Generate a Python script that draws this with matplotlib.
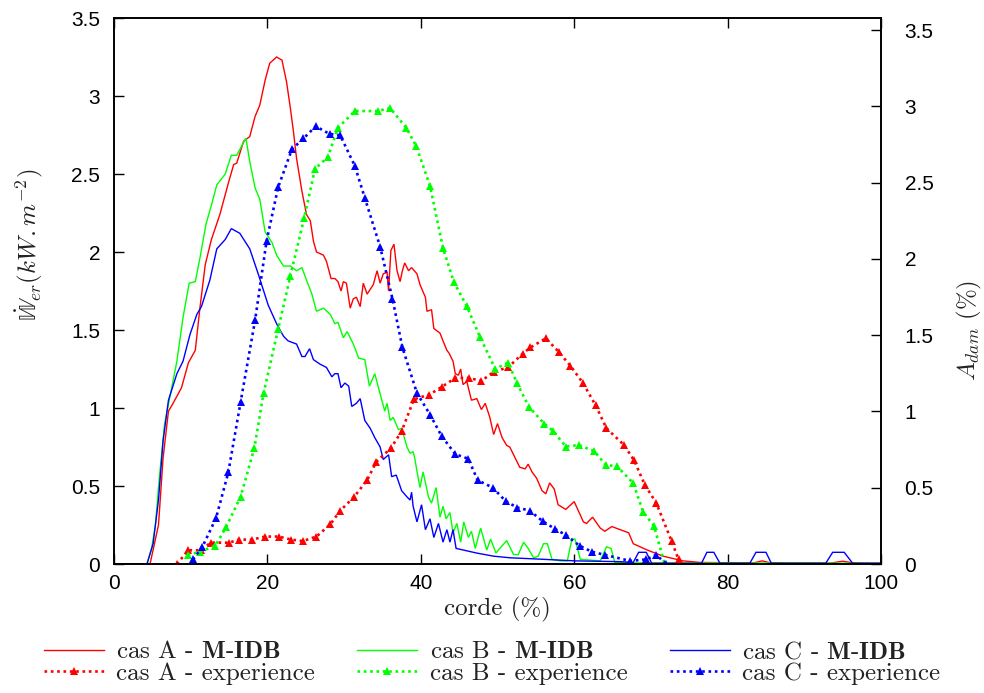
import matplotlib
matplotlib.use('Agg')
import matplotlib.pyplot as plt
from matplotlib.ticker import MultipleLocator, FormatStrFormatter

plt.rcParams['mathtext.fontset'] = 'cm'
plt.rcParams['font.family'] = ['cmr10', 'DejaVu Serif']
plt.rcParams['axes.unicode_minus'] = False

# ---------------- data (corde %, value) ----------------
# M-IDB (left axis, W_er)
a_midb_x = [0, 4.7, 5.8, 6.4, 7.1, 7.7, 8.8, 9.7, 10.6, 11.2, 11.9, 12.7, 13.8, 14.9, 15.6, 16.0,
            16.9, 17.7, 18.4, 19.0, 19.7, 20.3, 21.2, 21.9, 22.5, 23.0, 23.4, 23.8, 24.5, 25.1,
            25.6, 26.0, 26.4, 27.3, 27.7, 28.3, 28.8, 29.2, 29.6, 29.9, 30.3, 30.8, 31.2, 31.6,
            32.1, 32.5, 33.0, 33.8, 34.3, 34.7, 35.1, 35.6, 35.8, 36.1, 36.5, 36.9, 37.3, 37.6,
            37.9, 38.4, 38.8, 39.5, 39.9, 40.6, 40.8, 41.4, 41.7, 42.5, 42.9, 43.4, 43.7, 44.2,
            44.5, 44.9, 45.2, 45.5, 46.0, 46.6, 47.3, 47.9, 48.4, 49.0, 49.5, 50.0, 50.6, 51.2,
            51.6, 52.3, 52.9, 53.6, 54.0, 54.5, 55.1, 55.8, 56.3, 56.8, 57.4, 57.9, 58.9, 60.0,
            61.2, 61.6, 62.4, 63.4, 64.0, 64.9, 66.0, 67.1, 67.7, 69.5, 71.6, 74.2, 76.4, 80.0,
            83.5, 84.5, 85.5, 88.0, 93.5, 95.0, 96.5, 100]
a_midb_y = [0, 0, 0.25, 0.68, 0.98, 1.03, 1.13, 1.29, 1.37, 1.64, 1.92, 2.08, 2.24, 2.44, 2.56, 2.57,
            2.71, 2.74, 2.87, 2.94, 3.10, 3.21, 3.25, 3.23, 3.09, 2.92, 2.77, 2.60, 2.39, 2.24,
            2.20, 2.07, 2.00, 1.98, 1.94, 1.83, 1.83, 1.81, 1.75, 1.81, 1.80, 1.64, 1.70, 1.71,
            1.65, 1.80, 1.73, 1.79, 1.88, 1.80, 1.86, 1.87, 1.75, 2.01, 2.05, 1.88, 1.81, 1.88,
            1.93, 1.88, 1.90, 1.86, 1.79, 1.71, 1.62, 1.63, 1.51, 1.48, 1.43, 1.37, 1.35, 1.30,
            1.22, 1.21, 1.25, 1.15, 1.17, 1.05, 1.06, 0.99, 1.03, 0.94, 0.83, 0.90, 0.81, 0.76,
            0.75, 0.68, 0.62, 0.61, 0.64, 0.59, 0.55, 0.47, 0.45, 0.52, 0.48, 0.38, 0.35, 0.40,
            0.27, 0.26, 0.30, 0.23, 0.21, 0.24, 0.22, 0.20, 0.13, 0.09, 0.05, 0.02, 0.01, 0.008,
            0.008, 0.02, 0.008, 0.006, 0.006, 0.018, 0.006, 0.004]

b_midb_x = [0, 4.3, 4.9, 5.4, 5.9, 6.6, 8.2, 9.0, 9.8, 10.6, 11.2, 12.0, 12.7, 13.4, 14.5, 15.3,
            16.0, 17.2, 17.7, 18.4, 19.0, 19.7, 20.6, 21.2, 22.1, 23.0, 23.8, 24.5, 25.1, 25.8,
            26.4, 27.3, 28.2, 28.8, 29.2, 29.9, 30.4, 31.2, 31.9, 32.7, 33.3, 34.0, 34.7, 35.3,
            35.6, 36.0, 36.4, 37.1, 37.5, 38.2, 38.6, 39.0, 39.2, 39.7, 39.9, 40.3, 41.0, 41.4,
            42.0, 42.5, 42.9, 43.3, 43.8, 44.2, 44.7, 45.2, 45.6, 46.2, 46.6, 47.1, 47.8, 48.6,
            49.1, 49.8, 50.3, 51.2, 52.1, 52.7, 53.4, 54.0, 54.7, 55.3, 56.0, 56.5, 57.1, 58.2,
            59.1, 59.7, 60.1, 60.8, 63.4, 64.2, 64.8, 65.3, 70.0, 80.0, 90.0, 100]
b_midb_y = [0, 0, 0.10, 0.25, 0.55, 0.90, 1.30, 1.58, 1.80, 1.81, 1.96, 2.18, 2.30, 2.43, 2.50, 2.62,
            2.62, 2.73, 2.58, 2.41, 2.34, 2.13, 2.06, 1.98, 1.91, 1.91, 1.88, 1.90, 1.82, 1.73,
            1.62, 1.64, 1.60, 1.54, 1.55, 1.45, 1.49, 1.41, 1.32, 1.31, 1.14, 1.22, 1.09, 0.98,
            1.03, 0.92, 0.94, 0.86, 0.87, 0.75, 0.71, 0.72, 0.68, 0.54, 0.49, 0.59, 0.43, 0.39,
            0.49, 0.30, 0.37, 0.29, 0.33, 0.20, 0.26, 0.14, 0.27, 0.17, 0.21, 0.10, 0.23, 0.09,
            0.16, 0.07, 0.10, 0.15, 0.06, 0.06, 0.14, 0.10, 0.04, 0.05, 0.13, 0.13, 0.03, 0.02,
            0.02, 0.16, 0.16, 0.03, 0.02, 0.11, 0.10, 0.01, 0.006, 0.006, 0.006, 0.004]

c_midb_x = [0, 4.3, 5.1, 5.8, 6.4, 7.1, 8.2, 9.0, 9.9, 10.8, 11.4, 12.5, 13.4, 14.5, 15.3, 16.4,
            17.7, 18.8, 20.1, 21.2, 22.1, 22.7, 23.8, 24.5, 24.9, 25.5, 26.0, 26.9, 27.7, 28.4,
            28.8, 29.2, 29.6, 30.1, 30.6, 31.0, 31.6, 32.1, 32.7, 33.4, 34.0, 34.7, 35.1, 35.8,
            36.2, 36.8, 37.5, 38.2, 38.6, 38.8, 39.0, 39.5, 40.1, 40.6, 41.2, 41.7, 42.3, 42.9,
            43.4, 43.8, 44.2, 44.6, 45.5, 47.3, 49.5, 51.6, 56.0, 60.1, 66.0, 67.7, 68.4, 69.4,
            70.1, 76.6, 77.3, 78.2, 79.0, 82.9, 83.7, 85.0, 85.7, 92.8, 93.7, 95.2, 96.3, 100]
c_midb_y = [0, 0, 0.13, 0.41, 0.79, 1.05, 1.22, 1.30, 1.47, 1.60, 1.65, 1.82, 2.02, 2.08, 2.15, 2.12,
            2.02, 1.86, 1.66, 1.54, 1.46, 1.43, 1.41, 1.33, 1.33, 1.38, 1.31, 1.28, 1.26, 1.20,
            1.22, 1.22, 1.13, 1.16, 1.14, 1.01, 1.03, 1.06, 0.92, 0.87, 0.81, 0.75, 0.67, 0.70,
            0.56, 0.57, 0.47, 0.43, 0.41, 0.46, 0.37, 0.27, 0.38, 0.22, 0.29, 0.17, 0.26, 0.14,
            0.22, 0.14, 0.22, 0.10, 0.09, 0.07, 0.05, 0.04, 0.03, 0.02, 0.015, 0.01, 0.075, 0.075,
            0.005, 0.005, 0.075, 0.075, 0.005, 0.005, 0.075, 0.075, 0.005, 0.005, 0.075, 0.075, 0.005, 0.005]

# experience (right axis, A_dam)
a_exp_x = [8.2, 9.7, 11.3, 12.6, 15.0, 16.3, 18.0, 19.7, 21.5, 23.1, 24.6, 26.4, 28.2, 29.5, 31.3,
           33.0, 34.2, 36.1, 37.5, 39.1, 41.1, 42.7, 44.5, 46.3, 47.9, 49.5, 51.4, 53.3, 54.3,
           56.3, 58.0, 59.5, 61.1, 62.8, 64.2, 66.5, 67.8, 69.2, 70.7, 72.7, 73.6]
a_exp_y = [0.0, 0.09, 0.09, 0.14, 0.14, 0.16, 0.16, 0.18, 0.18, 0.16, 0.15, 0.18, 0.26, 0.35, 0.44,
           0.55, 0.67, 0.76, 0.87, 1.08, 1.11, 1.16, 1.22, 1.22, 1.20, 1.26, 1.29, 1.38, 1.42,
           1.48, 1.39, 1.30, 1.19, 1.04, 0.89, 0.78, 0.68, 0.52, 0.40, 0.15, 0.03]

b_exp_x = [9.6, 11.2, 13.2, 14.6, 16.5, 18.3, 19.5, 21.4, 23.0, 24.8, 26.2, 27.9, 29.2, 31.4, 34.4,
           36.0, 38.1, 39.4, 41.2, 42.9, 44.3, 46.0, 47.7, 49.7, 51.4, 52.5, 54.1, 56.1, 57.3,
           58.9, 60.6, 62.6, 64.1, 65.6, 67.7, 69.0, 70.4, 71.8]
b_exp_y = [0.06, 0.08, 0.12, 0.24, 0.44, 0.76, 1.12, 1.54, 1.89, 2.27, 2.59, 2.67, 2.86, 2.97, 2.97,
           2.99, 2.86, 2.74, 2.48, 2.07, 1.85, 1.69, 1.49, 1.28, 1.32, 1.19, 1.03, 0.92, 0.87,
           0.77, 0.78, 0.74, 0.65, 0.64, 0.53, 0.34, 0.25, 0.0]

c_exp_x = [10.3, 11.5, 13.3, 14.9, 16.5, 18.4, 19.9, 21.4, 23.2, 24.7, 26.3, 28.1, 29.5, 31.4, 32.7,
           34.7, 36.3, 37.6, 39.5, 41.2, 42.7, 44.5, 46.2, 47.4, 49.4, 51.1, 52.6, 54.2, 55.9,
           57.5, 58.9, 60.7, 62.3, 64.0, 67.3, 69.4, 70.7, 72.0]
c_exp_y = [0.03, 0.11, 0.30, 0.60, 1.06, 1.60, 2.12, 2.47, 2.72, 2.79, 2.87, 2.82, 2.81, 2.61, 2.40,
           2.08, 1.74, 1.42, 1.12, 0.98, 0.84, 0.72, 0.69, 0.55, 0.50, 0.41, 0.37, 0.35, 0.28,
           0.23, 0.19, 0.12, 0.08, 0.06, 0.02, 0.03, 0.06, 0.0]

labels = [r'cas A - $\mathbf{M}$-$\mathbf{IDB}$', 'cas A - experience',
          r'cas B - $\mathbf{M}$-$\mathbf{IDB}$', 'cas B - experience',
          r'cas C - $\mathbf{M}$-$\mathbf{IDB}$', 'cas C - experience']
colors = ['#ff0000', '#00ff00', '#0000ff']

# ---------------- figure ----------------
W, H = 984, 693
fig = plt.figure(figsize=(W / 100, H / 100), dpi=100)
L, R, T, B = 114, 881, 18, 564
ax = fig.add_axes([L / W, 1 - B / H, (R - L) / W, (B - T) / H])
ax2 = ax.twinx()

dot = (0, (1.0, 1.4))
sol = []
exp = []
for (mx, my, ex, ey, c) in [(a_midb_x, a_midb_y, a_exp_x, a_exp_y, colors[0]),
                            (b_midb_x, b_midb_y, b_exp_x, b_exp_y, colors[1]),
                            (c_midb_x, c_midb_y, c_exp_x, c_exp_y, colors[2])]:
    l1, = ax.plot(mx, my, color=c, lw=1.0, solid_joinstyle='miter')
    l2, = ax2.plot(ex, ey, color=c, lw=1.9, linestyle=dot, marker='^',
                   markersize=6, markeredgewidth=0, clip_on=True)
    sol.append(l1)
    exp.append(l2)

ax.set_xlim(0, 100)
ax.set_ylim(0, 3.5)
ax2.set_ylim(0, 3.58)

ax.xaxis.set_major_locator(MultipleLocator(20))
ax.yaxis.set_major_locator(MultipleLocator(0.5))
ax2.yaxis.set_major_locator(MultipleLocator(0.5))
fmt = FormatStrFormatter('%g')
ax.yaxis.set_major_formatter(fmt)
ax2.yaxis.set_major_formatter(fmt)
ax.xaxis.set_major_formatter(fmt)

tickfont = 'Liberation Sans'
ax.tick_params(axis='x', direction='in', length=7, width=1, labelsize=15, pad=7,
               top=True, labelfontfamily=tickfont, colors='black')
ax.tick_params(axis='y', direction='in', length=7, width=1, labelsize=15, pad=10,
               right=False, labelfontfamily=tickfont)
ax2.tick_params(axis='y', direction='in', length=7, width=1, labelsize=15, pad=17,
                labelfontfamily=tickfont)
for a in (ax, ax2):
    for s in a.spines.values():
        s.set_linewidth(1.2)
        s.set_color('black')

ax.set_xlabel(r'corde (%)', fontsize=18, labelpad=3, color='#222222')
ax.set_ylabel(r'$\dot{\mathbb{W}}_{er}(kW.m^{-2})$', fontsize=18, color='#222222')
ax.yaxis.set_label_coords((46 - L) / (R - L), (B - 245) / (B - T))
ax2.set_ylabel(r'$A_{dam}\ (\%)$', fontsize=18, color='#222222', rotation=90)
ax2.yaxis.set_label_coords((955 - L) / (R - L), (B - 330) / (B - T))

handles = [sol[0], exp[0], sol[1], exp[1], sol[2], exp[2]]
leg = fig.legend(handles, labels, ncol=3, loc='upper left',
                 bbox_to_anchor=(44 / W, 1 - 641 / H), frameon=False, fontsize=18,
                 handlelength=2.4, handletextpad=0.5, columnspacing=1.68,
                 labelspacing=-0.05, borderpad=0, borderaxespad=0)
for t in leg.get_texts():
    t.set_color('#222222')

fig.savefig('out.png', dpi=100)
